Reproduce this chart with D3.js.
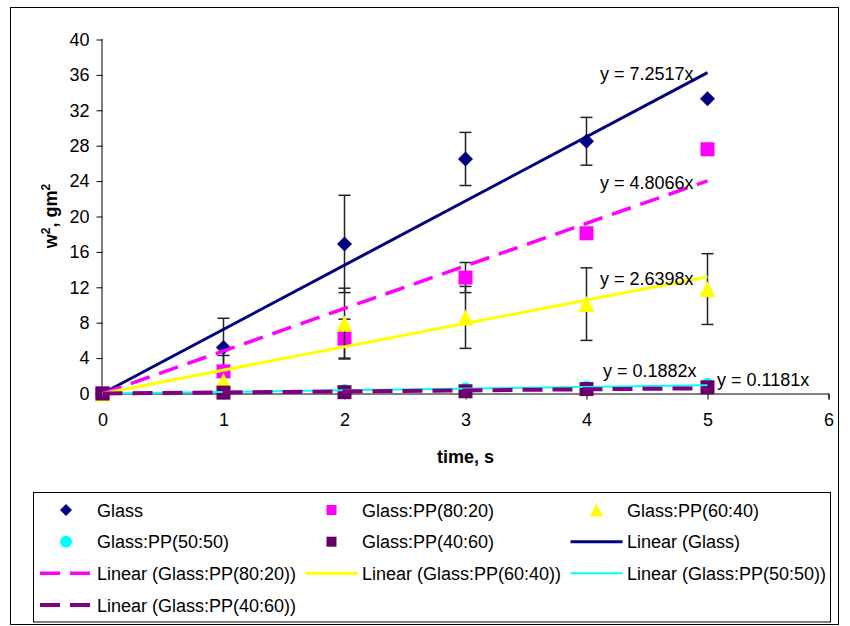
<!DOCTYPE html>
<html>
<head>
<meta charset="utf-8">
<script src="https://cdn.jsdelivr.net/npm/d3@7"></script>
<style>
  html, body { margin: 0; padding: 0; background: #fff; }
  svg { display: block; }
  text { font-family: "Liberation Sans", Arial, sans-serif; fill: #000; }
</style>
</head>
<body>
<svg id="chart" width="850" height="626"></svg>
<script>
// ---- data ----
const times = [0, 1, 2, 3, 4, 5];
const glass     = [0, 5.2, 16.9, 26.5, 28.5, 33.3];
const glass8020 = [0, 2.5, 6.2, 13.1, 18.1, 27.6];
const glass6040 = [0, 1.4, 7.9, 8.6, 10.1, 11.8];
const glass5050 = [0, 0.2, 0.4, 0.6, 0.8, 1.1];
const glass4060 = [0, 0.1, 0.15, 0.25, 0.5, 0.7];

const errGlass = [0, 3.3, 5.5, 3.0, 2.7, 0];
const err8020  = [0, 1.8, 2.2, 1.7, 0, 0];
const err6040  = [0, 0, 4.0, 3.5, 4.1, 4.0];
const err5050  = [0, 0, 0, 0, 0, 0];
const err4060  = [0, 0, 0, 0, 0, 0];

const slopes = [7.2517, 4.8066, 2.6398, 0.1882, 0.1181];
const trendLabels = ["y = 7.2517x", "y = 4.8066x", "y = 2.6398x", "y = 0.1882x", "y = 0.1181x"];
const seriesNames = ["Glass", "Glass:PP(80:20)", "Glass:PP(60:40)", "Glass:PP(50:50)", "Glass:PP(40:60)"];
const xTicks = [0, 1, 2, 3, 4, 5, 6];
const yTicks = [0, 4, 8, 12, 16, 20, 24, 28, 32, 36, 40];
const xTitle = "time, s";

// ---- styling / layout ----
const series = [
  { name: seriesNames[0], values: glass,     err: errGlass, slope: slopes[0], label: trendLabels[0],
    shape: "diamond", fill: "#000080", line: "#000080", lw: 3, dash: null },
  { name: seriesNames[1], values: glass8020, err: err8020,  slope: slopes[1], label: trendLabels[1],
    shape: "square", fill: "#FF00FF", line: "#FF00FF", lw: 3.5, dash: "20,10" },
  { name: seriesNames[2], values: glass6040, err: err6040,  slope: slopes[2], label: trendLabels[2],
    shape: "triangle", fill: "#FFFF00", line: "#FFFF00", lw: 3, dash: null },
  { name: seriesNames[3], values: glass5050, err: err5050,  slope: slopes[3], label: trendLabels[3],
    shape: "circle", fill: "#00FFFF", line: "#00FFFF", lw: 2, dash: null },
  { name: seriesNames[4], values: glass4060, err: err4060,  slope: slopes[4], label: trendLabels[4],
    shape: "square", fill: "#660066", line: "#800080", lw: 4, dash: "20,10" }
];
const labelPos = [[600, 80], [600, 189], [600, 285], [603, 377], [717, 386]];

const svg = d3.select("#chart");
const FONT = 18;

// outer border
svg.append("rect").attr("x", 10.5).attr("y", 7.5).attr("width", 828).attr("height", 617)
  .attr("fill", "#fff").attr("stroke", "#000").attr("stroke-width", 1);

const x = d3.scaleLinear().domain([0, 6]).range([102.5, 828.5]);
const y = d3.scaleLinear().domain([0, 40]).range([393.5, 39.5]);

// axes
const yAxis = d3.axisLeft(y).tickValues(yTicks).tickSize(6).tickPadding(7).tickFormat(d3.format("d"));
const xAxis = d3.axisBottom(x).tickValues(xTicks).tickSize(6).tickPadding(14).tickFormat(d3.format("d"));
const gy = svg.append("g").attr("transform", "translate(102.5,0)").call(yAxis);
const gx = svg.append("g").attr("transform", "translate(0,393.5)").call(xAxis);
[gx, gy].forEach(g => {
  g.select(".domain").attr("stroke", "#000").attr("stroke-width", 1);
  g.selectAll(".tick line").attr("stroke", "#000");
  g.selectAll(".tick text").attr("font-size", FONT).attr("font-family", "Liberation Sans, Arial, sans-serif").attr("fill", "#000");
});
gy.select(".domain").attr("d", `M0,${y(40)}H-0.5V${y(0)}`);

// axis titles
svg.append("text").attr("x", x(3) + 0).attr("y", 463).attr("text-anchor", "middle")
  .attr("font-size", FONT).attr("font-weight", "bold").text(xTitle);
const yt = svg.append("text").attr("transform", "translate(57,216) rotate(-90)")
  .attr("text-anchor", "middle").attr("font-size", FONT).attr("font-weight", "bold");
yt.append("tspan").text("w");
yt.append("tspan").attr("font-size", 12).attr("dy", -7).text("2");
yt.append("tspan").attr("dy", 7).text(", gm");
yt.append("tspan").attr("font-size", 12).attr("dy", -7).text("2");

// marker path generator
function markerPath(shape, s) {
  const h = s / 2;
  if (shape === "diamond") return `M0,${-h}L${h},0L0,${h}L${-h},0Z`;
  if (shape === "square") return `M${-h},${-h}H${h}V${h}H${-h}Z`;
  if (shape === "triangle") return `M0,${-h}L${h},${h}L${-h},${h}Z`;
  return d3.symbol(d3.symbolCircle, s * s * Math.PI / 4)();
}
const markerSize = { diamond: 15, square: 14, triangle: 16, circle: 12 };

const plot = svg.append("g");
// error bars + markers
series.forEach(s => {
  const g = plot.append("g");
  times.forEach((t, i) => {
    const e = s.err[i];
    if (e > 0) {
      const cx = x(t), y1 = y(s.values[i] + e), y2 = y(s.values[i] - e);
      g.append("line").attr("x1", cx).attr("x2", cx).attr("y1", y1).attr("y2", y2)
        .attr("stroke", "#222").attr("stroke-width", 1.5);
      [y1, y2].forEach(yy => g.append("line").attr("x1", cx - 6).attr("x2", cx + 6)
        .attr("y1", yy).attr("y2", yy).attr("stroke", "#222").attr("stroke-width", 1.5));
    }
  });
  g.selectAll("path.m").data(times).join("path").attr("class", "m")
    .attr("transform", (t, i) => `translate(${x(t)},${y(s.values[i])})`)
    .attr("d", markerPath(s.shape, markerSize[s.shape]))
    .attr("fill", s.fill);
});

// trendlines
series.forEach(s => {
  const line = d3.line().x(d => x(d)).y(d => y(s.slope * d));
  plot.append("path").datum([0, 5]).attr("d", line)
    .attr("fill", "none").attr("stroke", s.line).attr("stroke-width", s.lw)
    .attr("stroke-dasharray", s.dash);
});

// trend labels
series.forEach((s, i) => {
  svg.append("text").attr("x", labelPos[i][0]).attr("y", labelPos[i][1])
    .attr("font-size", FONT).text(s.label);
});

// legend
svg.append("rect").attr("x", 33.5).attr("y", 492.5).attr("width", 797).attr("height", 129.5)
  .attr("fill", "#fff").attr("stroke", "#000").attr("stroke-width", 1);
const legendItems = [
  ...series.map(s => ({ type: "marker", s, text: s.name })),
  ...series.map(s => ({ type: "line", s, text: "Linear (" + s.name + ")" }))
];
const colCenters = [66, 331.5, 596.5];
const textX = [97, 362, 627];
const rowY = [510, 541.7, 573.3, 605];
const lg = svg.append("g");
legendItems.forEach((it, k) => {
  const r = Math.floor(k / 3), c = k % 3;
  const cy = rowY[r], cx = colCenters[c];
  if (it.type === "marker") {
    const sz = it.s.shape === "triangle" ? 13 : 12;
    let d = markerPath(it.s.shape, sz);
    if (it.s.shape === "square") d = markerPath("square", 10);
    lg.append("path").attr("transform", `translate(${cx},${cy})`).attr("d", d).attr("fill", it.s.fill);
  } else {
    lg.append("line").attr("x1", cx - 26).attr("x2", cx + 26).attr("y1", cy).attr("y2", cy)
      .attr("stroke", it.s.line).attr("stroke-width", it.s.lw)
      .attr("stroke-dasharray", it.s.dash);
  }
  lg.append("text").attr("x", textX[c]).attr("y", cy + 6.5).attr("font-size", FONT).text(it.text);
});
</script>
</body>
</html>
